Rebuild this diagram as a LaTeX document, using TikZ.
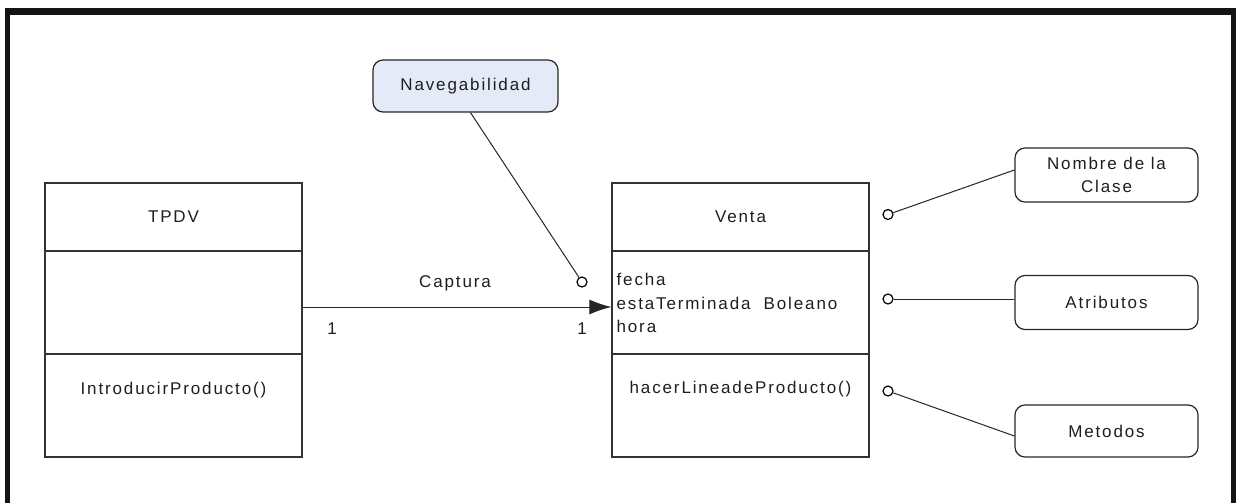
\documentclass[tikz,border=0pt]{standalone}
\usepackage{fontspec}
\setmainfont{Liberation Sans}[LetterSpace=11]
\usetikzlibrary{arrows.meta,calc}
\definecolor{navfill}{RGB}{229,234,248}
\definecolor{ink}{RGB}{30,30,30}
\begin{document}
\begin{tikzpicture}[x=1pt,y=-1pt,
  every node/.style={font=\fontsize{17}{23.6}\selectfont, text=ink},
  compart/.style={draw=black!80, line width=1.2pt, minimum width=257pt, inner sep=0pt},
  notebox/.style={draw=black!85, line width=1.2pt, rounded corners=10pt,
    minimum width=183pt, minimum height=54pt, inner sep=0pt, align=center},
  pin/.style={circle, draw=black, line width=1.2pt, fill=white, minimum size=10pt, inner sep=0pt},
  link/.style={draw=black!85, line width=1pt}]
\useasboundingbox (0,0) rectangle (1239,503);

% outer frame (open at the bottom)
\draw[line width=7pt, black!92] (4.5,11.5) -- (1236,11.5);
\draw[line width=5pt, black!92] (7.5,9) -- (7.5,503);
\draw[line width=5pt, black!92] (1233.5,9) -- (1233.5,503);

% class TPDV
\node[compart, minimum height=68pt]  (tpN) at (173.5,217) {};
\node[compart, minimum height=103pt] (tpA) at (173.5,302.5) {};
\node[compart, minimum height=103pt] (tpO) at (173.5,405.5) {};
\node (tpNt) at (tpN.center) {TPDV};
\node (tpOt) at ([yshift=15.5pt]tpO.center) {IntroducirProducto()};

% class Venta
\node[compart, minimum height=68pt]  (veN) at (740.5,217) {};
\node[compart, minimum height=103pt] (veA) at (740.5,302.5) {};
\node[compart, minimum height=103pt] (veO) at (740.5,405.5) {};
\node (veNt) at (veN.center) {Venta};
\node[anchor=west, align=left, inner sep=0pt] (veAt) at ([xshift=5pt,yshift=-0.5pt]veA.west)
  {fecha\\estaTerminada\ \ Boleano\\hora};
\node (veOt) at ([yshift=16.5pt]veO.center) {hacerLineadeProducto()};

% association
\draw[link, -{Latex[length=22pt,width=15pt]}] ([yshift=-4.5pt]tpA.east) -- ([yshift=-4.5pt]veA.west);
\node (cap) at (455,283) {Captura};
\node (m1) at (332,329) {1};
\node (m2) at (582,329) {1};

% annotations
\node[notebox, fill=navfill, minimum width=185pt, minimum height=52pt] (nav) at (465.5,86) {Navegabilidad};
\node[notebox] (nom) at (1106.5,175) {Nombre de la\\Clase};
\node[notebox] (atr) at (1106.5,302.5) {Atributos};
\node[notebox, minimum height=52pt] (met) at (1106.5,431) {Metodos};

\node[pin] (pn) at (582,282) {};
\node[pin] (p1) at (888,214.5) {};
\node[pin] (p2) at (888,299) {};
\node[pin] (p3) at (888,391) {};

\draw[link] ([xshift=5pt]nav.south) -- (pn);
\draw[link] ([yshift=5pt]nom.west) -- (p1);
\draw[link] (p2) -- (p2 -| atr.west);
\draw[link] ([yshift=-5pt]met.west) -- (p3);
\end{tikzpicture}
\end{document}
